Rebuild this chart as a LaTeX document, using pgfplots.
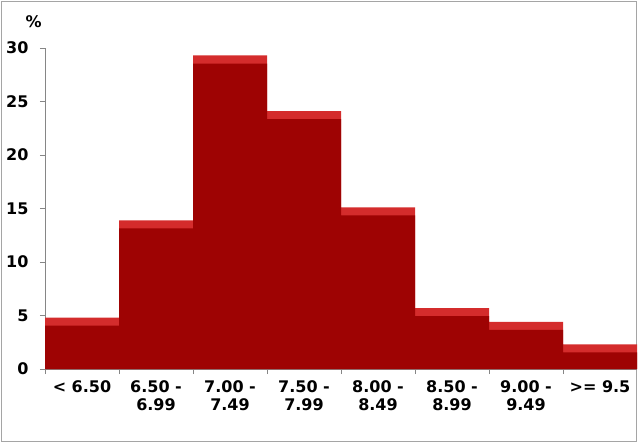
\documentclass[border=0pt]{standalone}
\usepackage{pgfplots}
\pgfplotsset{compat=1.18}
\usepackage{fontspec}
\setmainfont{DejaVu Sans}
\definecolor{barred}{RGB}{158,3,3}
\definecolor{bevelred}{RGB}{212,44,44}
\definecolor{axgray}{RGB}{134,134,134}
\definecolor{framegray}{RGB}{165,165,165}

\begin{document}
\begin{tikzpicture}
\path[use as bounding box] (0,0) rectangle (638bp,443bp);
\draw[framegray, line width=1bp] (1.5bp,1.5bp) rectangle (636.5bp,441.5bp);
\begin{axis}[
    at={(45bp,74bp)}, anchor=south west,
    scale only axis, width=592bp, height=321bp,
    xmin=-0.5, xmax=7.5, ymin=0, ymax=30,
    axis lines*=left,
    axis line style={axgray, line width=0.8bp},
    tick style={axgray, line width=0.8bp},
    tick align=outside,
    major tick length=5bp, minor tick length=5bp,
    xtick={0,...,7},
    xticklabels={{< 6.50},{6.50 -\\6.99},{7.00 -\\7.49},{7.50 -\\7.99},
                 {8.00 -\\8.49},{8.50 -\\8.99},{9.00 -\\9.49},{>= 9.5}},
    major x tick style={draw=none},
    minor xtick={-0.5,0.5,...,6.5},
    ytick={0,5,...,30},
    /pgf/number format/assume math mode=true,
    ticklabel style={font=\fontsize{16bp}{18.5bp}\selectfont\bfseries, black},
    xticklabel style={align=center, anchor=north, yshift=-3bp},
    yticklabel style={xshift=-8bp},
    ylabel={\%},
    ylabel style={at={(axis description cs:-0.019,1)}, anchor=south,
                  rotate=-90, yshift=17bp,
                  font=\fontsize{16bp}{18bp}\selectfont\bfseries},
    clip=false,
]
% bevelled top strip
\addplot[ybar, bar width=1, fill=bevelred, draw=none]
  coordinates {(0,4.8) (1,13.9) (2,29.3) (3,24.1) (4,15.1) (5,5.7) (6,4.4) (7,2.3)};
\addplot[ybar, bar width=1, fill=barred, draw=none,
         y filter/.expression={y-0.75}]
  coordinates {(0,4.8) (1,13.9) (2,29.3) (3,24.1) (4,15.1) (5,5.7) (6,4.4) (7,2.3)};
\end{axis}
\end{tikzpicture}
\end{document}
